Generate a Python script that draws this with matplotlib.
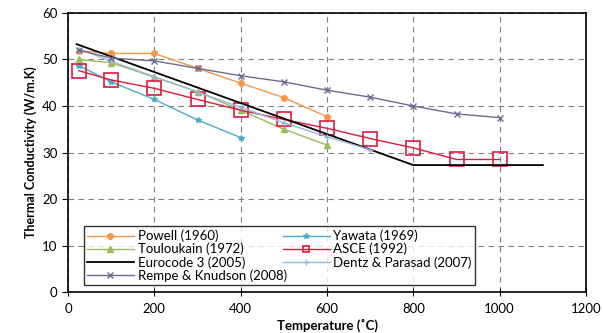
import matplotlib.pyplot as plt

# Data
powell_t = [25, 100, 200, 300, 400, 500, 600]
powell_k = [51.9, 51.3, 51.3, 48.1, 44.9, 41.8, 37.7]

yawata_t = [25, 100, 200, 300, 400]
yawata_k = [48.7, 45.2, 41.4, 37.0, 33.2]

toulou_t = [25, 100, 200, 300, 400, 500, 600]
toulou_k = [50.0, 49.3, 46.2, 43.1, 39.1, 35.0, 31.6]

asce_t = [25, 100, 200, 300, 400, 500, 600, 700, 800, 900, 1000]
asce_k = [47.6, 45.6, 43.8, 41.4, 39.1, 37.1, 35.2, 33.0, 31.0, 28.5, 28.5]

euro_t = [20, 800, 1100]
euro_k = [53.3, 27.3, 27.3]

dentz_t = [25, 100, 200, 300, 400, 500, 600, 700]
dentz_k = [52.3, 49.6, 46.3, 43.0, 39.7, 36.4, 33.4, 30.6]

rempe_t = [25, 100, 200, 300, 400, 500, 600, 700, 800, 900, 1000]
rempe_k = [52.0, 50.3, 49.7, 48.1, 46.5, 45.2, 43.4, 41.9, 40.0, 38.3, 37.5]

plt.rcParams['font.family'] = ['Lato', 'DejaVu Sans']

fig = plt.figure(figsize=(6.03, 3.33), dpi=100)
ax = fig.add_axes([0.1128, 0.123, 0.859, 0.838])

lines = {}
lines['powell'], = ax.plot(powell_t, powell_k, color='#F79646', marker='o', ms=4, lw=1,
                           label='Powell (1960)')
lines['yawata'], = ax.plot(yawata_t, yawata_k, color='#4BACC6', marker='*', ms=4, lw=1,
                           label='Yawata (1969)')
lines['toulou'], = ax.plot(toulou_t, toulou_k, color='#9BBB59', marker='^', ms=4, lw=1,
                           label='Touloukain (1972)')
lines['asce'], = ax.plot(asce_t, asce_k, color='#E3173E', marker='s', ms=10.5, mfc='none',
                         mew=1.2, lw=1, label='ASCE (1992)')
lines['euro'], = ax.plot(euro_t, euro_k, color='black', lw=1.3, label='Eurocode 3 (2005)')
lines['dentz'], = ax.plot(dentz_t, dentz_k, color='#93B8DC', marker='+', ms=5, lw=1,
                          label='Dentz & Parasad (2007)')
lines['rempe'], = ax.plot(rempe_t, rempe_k, color='#6B6B94', marker='x', ms=4, lw=1,
                          label='Rempe & Knudson (2008)')

ax.set_xlim(0, 1200)
ax.set_ylim(0, 60)
ax.set_xticks(range(0, 1201, 200))
ax.set_yticks(range(0, 61, 10))
ax.grid(True, color='#808080', ls=(0, (5, 4)), lw=0.8)
ax.tick_params(axis='x', direction='inout', length=6, labelsize=9.5, pad=5)
ax.tick_params(axis='y', direction='out', length=4, labelsize=9.5)
for s in ax.spines.values():
    s.set_linewidth(1.2)

ax.set_ylabel('Thermal Conductivity (W/m.K)', fontsize=9, fontweight='bold')
ax.set_xlabel('Temperature (˚C)', fontsize=9.5, fontweight='bold')
ax.xaxis.set_label_coords(0.5, -0.095)

# column-major order as in the reference legend
order = ['powell', 'toulou', 'euro', 'rempe', 'yawata', 'asce', 'dentz']
handles = [lines[k] for k in order]
leg = ax.legend(handles, [h.get_label() for h in handles], ncol=2, loc='lower left',
                bbox_to_anchor=(0.031, 0.025, 0.755, 0.25), mode='expand',
                fontsize=9.5, frameon=True, fancybox=False,
                borderpad=0.25, labelspacing=0.05, handlelength=3.5, handletextpad=0.3,
                columnspacing=1.0, borderaxespad=0)
leg.get_frame().set_edgecolor('black')
leg.get_frame().set_linewidth(1.0)
for h in leg.legend_handles:
    if h.get_marker() == 's':
        h.set_markersize(5)

fig.savefig('out.png', dpi=100)
